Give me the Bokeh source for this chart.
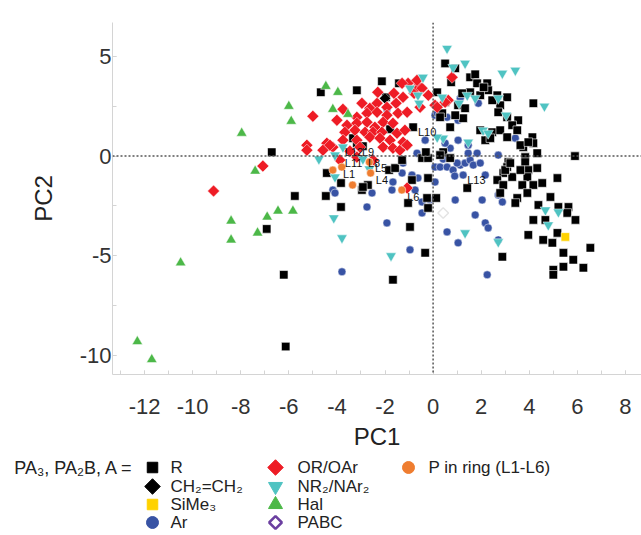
import math
from bokeh.plotting import figure
from bokeh.models import Span, Range1d, FixedTicker, LinearAxis
from bokeh.layouts import column
from bokeh.core.properties import value
from bokeh.embed import file_html
from bokeh.resources import INLINE

# ---------------- data (PC1, PC2) ----------------
r_x = [-6.71, -4.67, -3.17, -2.13, -1.96, -1.42, -5.75, -4.42, -4.46, -3.83, -3.83, -2.96, -2.71, -1.83, -1.58,
       -1.79, -3.33, -6.92, -6.21, -6.13, -1.67, -3.17, -2.92, -0.83, -1.29, -0.46, -0.21, -2.92, -0.88, -0.25,
       0.38, -0.96, -0.33, -1.04, 0.13, -0.21, 0.42, 0.71, 1.42, 0.5, 0.92, 1.54, 1.83, 2.25, 2.29, 1.96, 1.54,
       1.21, 0.17, 0.5, 1.04, 1.33, 1.25, 0.92, 0.29, 0.71, 2.67, 3.08, 2.79, 2.71, 3.08, 3.54, 3.29, 3.5, 2.46,
       2.79, 3.08, 1.96, 2.17, 4.17, 4.13, 4.17, 3.75, 4.33, 3.83, 3.83, 4.33, 3.96, 3.92, 3.13, 3.08, 2.92, 3.29,
       2.67, 2.92, 2.79, 3.71, 4.17, 4.54, 3.92, 3.5, 3.42, 5.17, 4.88, 4.38, 5.21, 5.63, 5.58, 5.92, 5.9, 4.17,
       3.96, 4.58, 4.96, 5.17, 5.42, 5.83, 5.42, 5.0, 5.0, 6.25, 6.54, 2.88, 2.38, 3.63, 3.96, 2.46, -0.21, 3.0,
       3.21, 3.63, 4.67, 0.29, -0.3, 1.75, 2.1, 0.75]
r_y = [0.2, 3.2, 3.3, 3.75, 2.95, 3.65, -2.0, -0.85, -2.0, -2.55, -1.35, -1.7, -1.45, -0.7, -0.6,
       1.35, 0.9, -3.65, -5.95, -9.55, -6.2, 0.65, 0.5, 1.45, -0.2, -0.1, -0.1, -1.55, -1.2, -2.1,
       2.15, -3.55, -4.85, -2.35, -2.1, -2.6, 0.2, -0.1, -1.6, 4.65, 4.4, 3.95, 3.65, 3.65, 3.3, 3.05, 3.2,
       3.15, 3.2, 2.7, 2.55, 2.4, 1.9, 2.05, 1.95, 1.45, 3.05, 2.95, 2.55, 2.2, 1.95, 1.8, 1.55, 1.3, 1.2,
       1.3, 0.95, 1.3, 0.8, 2.65, 0.95, 0.65, 0.45, 0.15, -0.05, -0.3, -0.6, -0.7, -1.05, -0.3, -0.55, -0.85, -1.05,
       -1.2, -1.45, -1.85, -1.45, -1.45, -1.35, -1.85, -2.1, -2.35, -1.1, -2.05, -2.45, -2.55, -2.55, -2.85, -3.2, 0.0, -3.2,
       -3.95, -4.2, -4.35, -3.85, -4.85, -5.2, -5.55, -5.7, -5.95, -5.6, -4.6, -5.05, 0.9, 0.55, 0.7, 2.8, -1.1, -0.7,
       -0.35, -0.7, -3.2, 0.05, 0.2, 4.1, 3.45, 3.7]

vinyl_x = [-2.0]
vinyl_y = [2.9]

sime3_x = [5.5]
sime3_y = [-4.05]

ar_x = [-0.67, 0.08, 0.29, 0.58, 0.83, 1.13, 1.33, 1.54, 1.46, 1.83, 1.67, 1.25, 2.17, 2.71, 0.08, -0.63, -0.13,
        -0.46, 0.92, 2.04, 2.71, 2.88, 1.75, 2.17, 2.29, 0.58, 1.04, 2.71, 2.25, -0.96, 0.08, 0.58, 1.04, 1.88,
        1.13, -0.33, 0.71, 1.04, 1.46, 0.5, 3.42, 1.0, 1.96, -0.75, -1.29, -1.08, -0.88, -2.75, -2.54, -1.71,
        -0.46, -1.92, -4.17, -1.25, -4.08, -1.67, -3.79, -1.92, 0.17, -1.15, 0.42, 0.9]
ar_y = [0.15, -0.55, -0.55, -0.55, -0.7, -0.45, -0.35, -0.2, 0.15, 0.15, -0.45, -0.95, -0.95, 0.05, -1.3, -1.1, -2.2,
        -2.85, -2.2, -2.2, -1.95, -2.3, -2.95, -3.35, -3.6, -3.8, -4.35, -4.2, -5.95, -4.7, 2.05, 1.95, 1.8, 2.65,
        2.9, 0.8, 0.4, 0.8, 0.55, 0.65, 0.9, -0.35, -0.35, -1.7, -0.85, 0.55, -0.95, -2.55, -1.85, -1.7,
        -2.3, -3.35, -1.7, -0.35, -1.85, -1.3, -5.8, 2.35, 2.15, 0.65, -0.15, -1.0]

or_x = [-5.0, -3.75, -2.96, -2.63, -2.33, -1.92, -1.54, -1.63, -1.25, -0.79, -0.63, -1.04, 0.08, -3.17, -2.75,
        -2.33, -1.92, -1.46, -1.08, -3.58, -3.17, -2.75, -2.42, -2.08, -1.67, -3.67, -3.25, -2.83, -2.5, -2.13,
        -1.5, -1.17, -2.63, -2.21, -1.79, -3.17, -3.75, -4.42, -4.17, -5.25, -5.25, -4.58, -2.08, -1.67, -1.38,
        -1.25, -3.04, -3.46, -3.88, -3.17, -2.5, -1.08, -7.08, -9.13, -4.29, 0.79, 0.63, 0.17, -0.54, -1.08,
        -0.67, -1.29, 0.5, -0.46, -2.3, -0.2, -4.0]
or_y = [2.0, 2.35, 2.65, 2.4, 2.65, 2.45, 2.65, 3.15, 2.95, 3.15, 3.5, 3.65, 2.55, 1.95, 2.15,
        2.2, 2.05, 2.15, 2.2, 1.55, 1.65, 1.7, 1.45, 1.7, 1.65, 1.2, 1.3, 1.2, 1.2, 1.2,
        1.15, 1.3, 0.95, 0.9, 0.8, 0.8, 0.8, 0.65, 0.45, 0.55, 0.3, 0.3, 0.45, 0.4, 0.3,
        0.7, 0.45, 0.25, -0.2, -0.05, -0.2, -1.6, -0.5, -1.75, 0.55, 3.95, 2.8, 2.45, 2.45, 0.55,
        3.8, 3.65, 2.7, 3.4, 3.2, 3.05, 1.8]

nr_x = [0.58, 0.83, 1.33, 2.88, 3.42, 4.63, -0.42, -0.96, -0.63, -0.58, 0.38, 1.08, 1.42, 1.75, 2.71, 3.04,
        2.08, 2.29, 0.42, 1.46, 0.17, 4.67, 5.21, 4.79, 1.33, 2.71, -3.75, -4.08, -4.75, -2.92, -2.65, -4.08,
        -4.13, -3.79, -1.75]
nr_y = [5.4, 4.45, 4.65, 4.15, 4.3, 2.5, 3.95, 3.4, 3.05, 2.65, 2.95, 2.65, 3.05, 2.9, 2.9, 2.05,
        1.3, 1.15, 0.9, 0.7, 0.95, -2.7, -2.8, -3.45, -3.85, -4.3, 0.45, 0.05, -0.15, -0.15, -0.65, -1.05,
        -3.1, -4.1, -5.0]

hal_x = [-4.46, -3.96, -4.17, -3.54, -6.0, -5.9, -7.96, -7.4, -8.4, -8.4, -7.3, -6.9, -6.45, -5.83, -10.5, -12.3, -11.7]
hal_y = [3.5, 3.2, 2.35, 2.1, 2.5, 1.75, 1.15, -0.75, -3.25, -4.2, -3.85, -3.05, -2.75, -2.75, -5.35, -9.3, -10.2]

pabc_x = [0.42]
pabc_y = [-2.85]

ring_x = [-4.17, -3.8, -3.35, -2.6, -2.65, -1.3]
ring_y = [-0.7, -0.55, -1.45, -0.85, -0.3, -1.7]

lab_text = ["L12", "L9", "L11", "L8", "L5", "L1", "L4", "L6", "L10", "L13"]
lab_x = [-3.67, -2.96, -3.67, -2.71, -2.42, -3.75, -2.38, -1.08, -0.63, 1.42]
lab_y = [0.2, 0.2, -0.35, -0.35, -0.6, -0.9, -1.2, -2.05, 1.2, -1.2]

x_ticks = [-12, -10, -8, -6, -4, -2, 0, 2, 4, 6, 8]
y_ticks = [-10, -5, 0, 5]

header = "PA\u2083, PA\u2082B, A ="
leg_col1 = ["R", "CH\u2082=CH\u2082", "SiMe\u2083", "Ar"]
leg_col2 = ["OR/OAr", "NR\u2082/NAr\u2082", "Hal", "PABC"]
leg_col3 = ["P in ring (L1-L6)"]

# ---------------- styles ----------------
FONT = "Liberation Sans"
BLACK = "#000000"
RED = "#ee1c25"
CYAN = "#4fc3c2"
GREEN = "#4cb848"
BLUE = "#3853a4"
ORANGE = "#ef7d30"
YELLOW = "#ffd200"
PURPLE = "#6b3fa0"
ROT = math.pi / 4

W = 641
H1 = 452
H2 = 535 - H1
LEFT = 112

p = figure(width=W, height=H1, x_range=Range1d(-13.333, 8.667), y_range=Range1d(-10.95, 6.7),
           output_backend="svg", toolbar_location=None,
           min_border_left=LEFT, min_border_top=22, min_border_right=0, min_border_bottom=H1 - 375)
p.outline_line_color = None
p.grid.visible = False

for ax in (p.xaxis[0], p.yaxis[0]):
    ax.axis_line_color = "#d4d4d4"
    ax.major_tick_line_color = "#d4d4d4"
    ax.minor_tick_line_color = "#d4d4d4"
    ax.major_tick_in = 4
    ax.major_tick_out = 0
    ax.minor_tick_in = 4
    ax.minor_tick_out = 0
    ax.major_label_text_font = FONT
    ax.major_label_text_font_size = "22px"
    ax.major_label_text_color = "#333333"
    ax.axis_label_text_font = FONT
    ax.axis_label_text_font_size = "24px"
    ax.axis_label_text_font_style = "normal"
    ax.axis_label_text_color = "#222222"

p.xaxis.ticker = FixedTicker(ticks=x_ticks, minor_ticks=list(range(-13, 9)))
p.yaxis.ticker = FixedTicker(ticks=y_ticks, minor_ticks=[-10, -7.5, -5, -2.5, 0, 2.5, 5])
p.xaxis.major_label_overrides = {t: str(t) for t in x_ticks}
p.yaxis.major_label_overrides = {t: str(t) for t in y_ticks}
p.xaxis.axis_label = "PC1"
p.yaxis.axis_label = "PC2"
p.xaxis.major_label_standoff = 24
p.xaxis.axis_label_standoff = 6
p.yaxis.major_label_standoff = 1
p.yaxis.axis_label_standoff = 20

p.add_layout(Span(location=0, dimension="height", line_color="#555555", line_dash="2 2", line_width=1.5))
p.add_layout(Span(location=0, dimension="width", line_color="#555555", line_dash="2 2", line_width=1.5))

OUT = "white"
p.scatter(ar_x, ar_y, marker="circle", size=8, fill_color=BLUE, line_color=OUT, line_width=0.5)
p.scatter(r_x, r_y, marker="square", size=8.5, fill_color=BLACK, line_color=OUT, line_width=0.6)
p.scatter(vinyl_x, vinyl_y, marker="square", angle=ROT, size=8, fill_color=BLACK, line_color=OUT, line_width=0.5)
p.scatter(or_x, or_y, marker="square", angle=ROT, size=8.5, fill_color=RED, line_color=OUT, line_width=0.5)
p.scatter(nr_x, nr_y, marker="inverted_triangle", size=10.5, fill_color=CYAN, line_color=OUT, line_width=0.5)
p.scatter(hal_x, hal_y, marker="triangle", size=10.5, fill_color=GREEN, line_color=OUT, line_width=0.5)
p.scatter(ring_x, ring_y, marker="circle", size=8, fill_color=ORANGE, line_color=OUT, line_width=0.5)
p.scatter(sime3_x, sime3_y, marker="square", size=8.5, fill_color=YELLOW, line_color=OUT, line_width=0.5)
p.scatter(pabc_x, pabc_y, marker="square", angle=ROT, size=7.5, fill_color="white", line_color="#e4e4e4", line_width=1.5)
p.text(lab_x, lab_y, text=lab_text, text_font=value(FONT), text_font_size="11px",
       text_color="#111111", text_align="left", text_baseline="middle")

# ---------------- legend (own panel; coordinates are page pixels) ----------------
row_y = [467, 486, 504, 522]
col_x = [152, 275, 408]
txt_x = [170, 297, 428]

lg = figure(width=W, height=H2, x_range=Range1d(LEFT, W), y_range=Range1d(535, H1),
            x_axis_type=None, y_axis_type=None,
            output_backend="svg", toolbar_location=None,
            min_border_left=LEFT, min_border_right=0, min_border_top=0, min_border_bottom=0)
lg.grid.visible = False
lg.outline_line_color = None

# header text drawn as the single tick label of an otherwise invisible left axis
hdr_axis = LinearAxis(ticker=FixedTicker(ticks=[row_y[0]], minor_ticks=[]),
                      major_label_overrides={row_y[0]: header})
hdr_axis.axis_line_color = None
hdr_axis.major_tick_line_color = None
hdr_axis.minor_tick_line_color = None
hdr_axis.major_label_text_font = FONT
hdr_axis.major_label_text_font_size = "18px"
hdr_axis.major_label_text_color = "#222222"
hdr_axis.major_label_standoff = -27
lg.add_layout(hdr_axis, "left")

styles1 = [("square", 0, BLACK, BLACK, 10.5), ("square", ROT, BLACK, BLACK, 11),
           ("square", 0, YELLOW, YELLOW, 10.5), ("circle", 0, BLUE, BLUE, 12)]
styles2 = [("square", ROT, RED, RED, 11), ("inverted_triangle", 0, CYAN, CYAN, 14),
           ("triangle", 0, GREEN, GREEN, 14), ("square", ROT, "white", PURPLE, 9)]
styles3 = [("circle", 0, ORANGE, ORANGE, 12)]

for cx, tx, labels, styles in ((col_x[0], txt_x[0], leg_col1, styles1),
                               (col_x[1], txt_x[1], leg_col2, styles2),
                               (col_x[2], txt_x[2], leg_col3, styles3)):
    for i, (lab, st) in enumerate(zip(labels, styles)):
        mk, ang, fc, lc, sz = st
        lg.scatter([cx], [row_y[i]], marker=mk, angle=ang, size=sz, fill_color=fc, line_color=lc,
                   line_width=2.5 if fc == "white" else 1)
        lg.text([tx], [row_y[i]], text=[lab], text_font=value(FONT), text_font_size="17px",
                text_color="#222222", text_align="left", text_baseline="middle")

layout = column(p, lg, spacing=0)
open("out.html", "w").write(file_html(layout, INLINE))
